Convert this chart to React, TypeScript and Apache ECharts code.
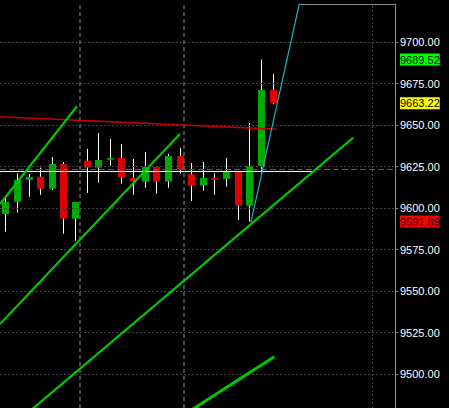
import React, { useEffect, useRef } from "react";
import * as echarts from "echarts";

// Bars (oldest first)
const opens = [9596.5, 9603.9, 9617.0, 9619.0, 9611.7, 9626.6, 9593.7, 9628.6, 9624.4, 9629.2, 9630.2, 9618.2, 9616.0, 9624.8, 9616.0, 9631.4, 9620.4, 9613.6, 9618.2, 9617.6, 9622.0, 9601.5, 9625.4, 9671.2];
const closes = [9603.7, 9617.0, 9618.8, 9611.7, 9626.6, 9593.7, 9603.7, 9624.4, 9629.0, 9630.2, 9618.4, 9616.0, 9624.8, 9616.0, 9631.4, 9623.2, 9613.6, 9618.2, 9617.2, 9622.0, 9601.5, 9625.4, 9671.2, 9663.22];
const lows = [9585.8, 9597.3, 9606.9, 9608.0, 9611.0, 9584.6, 9580.4, 9609.2, 9615.4, 9625.6, 9614.8, 9608.1, 9612.3, 9608.7, 9612.3, 9620.8, 9604.3, 9610.5, 9608.1, 9613.0, 9592.9, 9591.89, 9621.4, 9662.6];
const highs = [9606.3, 9621.0, 9620.6, 9624.4, 9630.8, 9627.8, 9603.7, 9635.8, 9645.3, 9641.7, 9638.7, 9629.6, 9633.9, 9625.4, 9632.7, 9636.3, 9627.2, 9627.8, 9621.0, 9630.2, 9622.0, 9651.3, 9689.52, 9680.8];

// Bar slots on the time axis (the right part is empty space)
const slotCount = 34;
const categories = Array.from({ length: slotCount }, (_, i) => String(i));

// Price scale
const priceMin = 9479.6;
const priceMax = 9723.0;
const priceTicks = [9500, 9525, 9550, 9575, 9600, 9625, 9650, 9675, 9700];
const timeGridLines = [6.4, 15.35];
const timeGridFine = [31.5];

// Drawn objects: [barPosition, price] pairs
const channelUpper = [[-0.5, 9602.5], [6.13, 9661.4]];
const channelMiddle = [[-0.5, 9530.2], [14.99, 9644.7]];
const channelLower = [[1.1, 9472.0], [29.91, 9642.5]];
const channelShort = [[15.0, 9474.0], [23.11, 9510.5]];
const resistance = [[-0.5, 9655.1], [23.32, 9647.5]];
const breakout = [[21.1, 9591.4], [25.48, 9730.0]];
const levelLine = [[-0.5, 9622.1], [26.35, 9622.1]];
const askLine = [[-0.5, 9623.3], [33.5, 9623.3]];

const UP = "#00aa00";
const DOWN = "#dd0000";
const TREND = "#00c800";
const FONT = "'Liberation Sans', Arial, sans-serif";

export default function App() {
  const ref = useRef<HTMLDivElement>(null);

  useEffect(() => {
    if (!ref.current) return;
    const chart = echarts.init(ref.current, null, { renderer: "svg" });

    const bars = opens.map((o, i) => [i, o, closes[i], lows[i], highs[i]]);

    const priceTags = [
      { value: highs[22], bg: "#00ff00" },
      { value: closes[23], bg: "#ffff00" },
      { value: lows[21], bg: "#ff0000" },
    ];

    const lineSeries = (data: number[][], color: string, width: number, type: any = "solid", z = 5) => ({
      type: "line",
      xAxisIndex: 1,
      yAxisIndex: 0,
      data,
      symbol: "none",
      showSymbol: false,
      silent: true,
      clip: true,
      z,
      lineStyle: { color, width, type },
    });

    chart.setOption({
      animation: false,
      backgroundColor: "#000000",
      grid: { left: 0, right: 54, top: 4, bottom: 0, containLabel: false },
      xAxis: [
        {
          type: "category",
          data: categories,
          boundaryGap: true,
          show: false,
        },
        {
          type: "value",
          min: -0.5,
          max: slotCount - 0.5,
          show: false,
        },
      ],
      yAxis: {
        type: "value",
        position: "right",
        min: priceMin,
        max: priceMax,
        splitLine: { show: false },
        axisLine: { show: true, onZero: false, lineStyle: { color: "#8a8a8a", width: 1 } },
        axisTick: {
          show: true,
          length: 3,
          customValues: priceTicks,
          lineStyle: { color: "#8a8a8a" },
        },
        axisLabel: {
          show: true,
          customValues: priceTicks,
          color: "#ffffff",
          fontFamily: FONT,
          fontSize: 11,
          margin: 5,
          formatter: (v: number) => v.toFixed(2),
        },
      },
      series: [
        // grid
        {
          type: "line",
          xAxisIndex: 1,
          yAxisIndex: 0,
          data: [],
          silent: true,
          z: 1,
          markLine: {
            silent: true,
            symbol: "none",
            animation: false,
            label: { show: false },
            lineStyle: { color: "#454545", width: 1, type: [2, 2] },
            data: [
              ...priceTicks.map((v) => ({ yAxis: v })),
              ...timeGridFine.map((v) => ({ xAxis: v })),
            ],
          },
        },
        {
          type: "line",
          xAxisIndex: 1,
          yAxisIndex: 0,
          data: [],
          silent: true,
          z: 1,
          markLine: {
            silent: true,
            symbol: "none",
            animation: false,
            label: { show: false },
            lineStyle: { color: "#5c5c5c", width: 1.6, type: [4, 3] },
            data: timeGridLines.map((v) => ({ xAxis: v })),
          },
        },
        // bars
        {
          type: "custom",
          xAxisIndex: 0,
          yAxisIndex: 0,
          data: bars,
          z: 3,
          encode: { x: 0, y: [1, 2, 3, 4] },
          renderItem: (_params: any, api: any) => {
            const i = api.value(0);
            const o = api.value(1);
            const c = api.value(2);
            const pO = api.coord([i, o]);
            const pC = api.coord([i, c]);
            const pL = api.coord([i, api.value(3)]);
            const pH = api.coord([i, api.value(4)]);
            const x = Math.floor(pO[0]) + 0.5;
            const top = Math.min(pO[1], pC[1]);
            const h = Math.max(Math.abs(pO[1] - pC[1]), 1.5);
            return {
              type: "group",
              children: [
                {
                  type: "line",
                  shape: { x1: x, y1: pH[1], x2: x, y2: pL[1] },
                  style: { stroke: "#ffffff", lineWidth: 1 },
                },
                {
                  type: "rect",
                  shape: { x: x - 3.5, y: top, width: 7, height: h },
                  style: { fill: c >= o ? UP : DOWN },
                },
              ],
            };
          },
        },
        // drawn objects
        lineSeries(askLine, "#5e5e5e", 1, [6, 3], 4),
        lineSeries(levelLine, "#ffffff", 1),
        lineSeries(resistance, "#cc0000", 1.4),
        lineSeries(channelUpper, TREND, 2.2),
        lineSeries(channelMiddle, TREND, 2.2),
        lineSeries(channelLower, TREND, 2.2),
        lineSeries(channelShort, TREND, 3),
        lineSeries(breakout, "#1fb3c4", 1.2),
        // price tags on the scale
        {
          type: "line",
          xAxisIndex: 1,
          yAxisIndex: 0,
          data: [],
          silent: true,
          z: 10,
          markLine: {
            silent: true,
            symbol: "none",
            animation: false,
            lineStyle: { color: "transparent", width: 0 },
            data: priceTags.map((t) => ({
              yAxis: t.value,
              label: {
                show: true,
                position: "end",
                distance: 5,
                formatter: () => t.value.toFixed(2),
                color: "#000000",
                backgroundColor: t.bg,
                fontFamily: FONT,
                fontSize: 11,
                lineHeight: 12,
                padding: [0, 0, 0, 0],
              },
            })),
          },
        },
      ],
      graphic: [
        {
          type: "line",
          shape: { x1: 299, y1: 4.5, x2: 395.5, y2: 4.5 },
          style: { stroke: "#8a8a8a", lineWidth: 1 },
          silent: true,
        },
      ],
    });

    return () => chart.dispose();
  }, []);

  return (
    <div
      ref={ref}
      style={{ position: "fixed", left: 0, top: 0, width: 449, height: 408, background: "#000" }}
    />
  );
}
